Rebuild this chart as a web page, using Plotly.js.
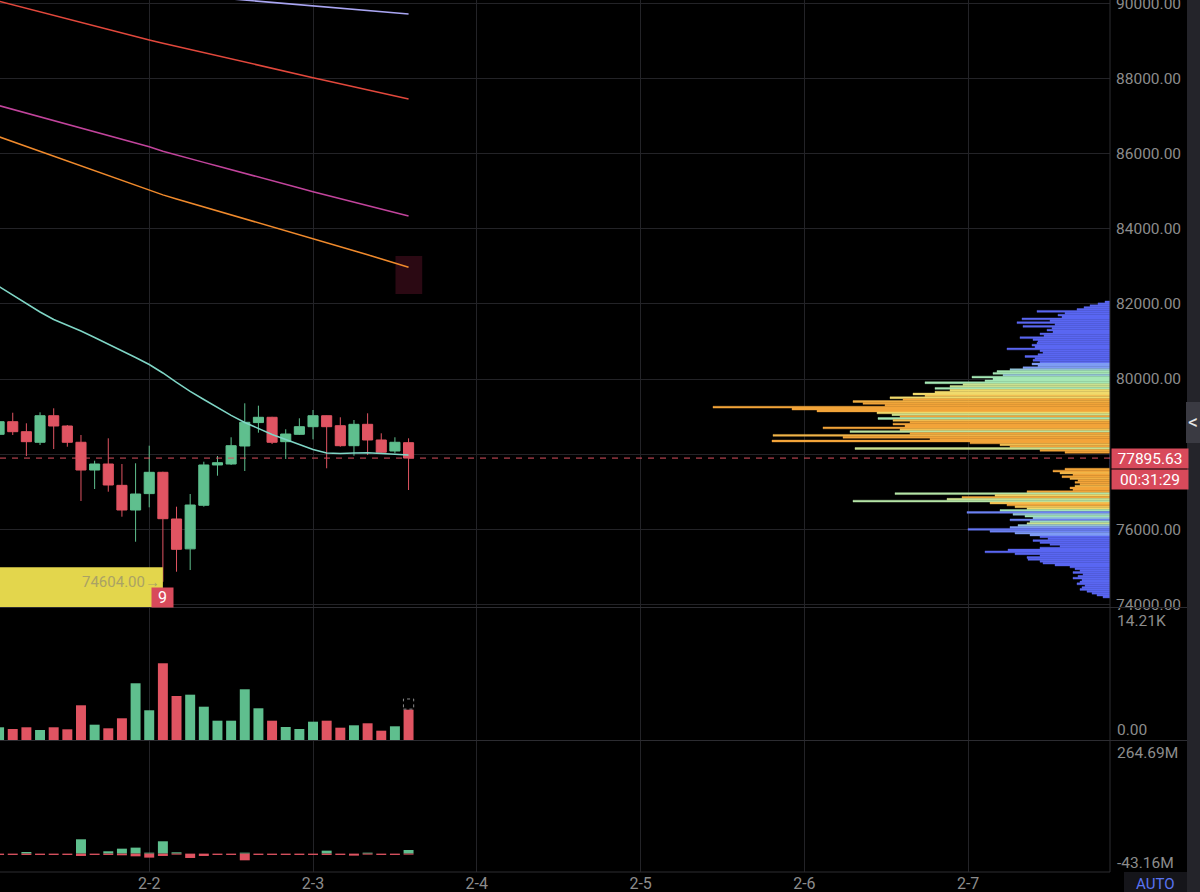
<!DOCTYPE html>
<html>
<head>
<meta charset="utf-8">
<script src="https://cdn.plot.ly/plotly-3.0.1.min.js"></script>
<style>
html,body{margin:0;padding:0;background:#000;}
#chart{width:1200px;height:892px;}
</style>
</head>
<body>
<div id="chart"></div>
<script>
// ---- candle data (2h candles) ----
const times = [
  "2026-02-01 02:00","2026-02-01 04:00","2026-02-01 06:00","2026-02-01 08:00","2026-02-01 10:00",
  "2026-02-01 12:00","2026-02-01 14:00","2026-02-01 16:00","2026-02-01 18:00","2026-02-01 20:00",
  "2026-02-01 22:00","2026-02-02 00:00","2026-02-02 02:00","2026-02-02 04:00","2026-02-02 06:00",
  "2026-02-02 08:00","2026-02-02 10:00","2026-02-02 12:00","2026-02-02 14:00","2026-02-02 16:00",
  "2026-02-02 18:00","2026-02-02 20:00","2026-02-02 22:00","2026-02-03 00:00","2026-02-03 02:00",
  "2026-02-03 04:00","2026-02-03 06:00","2026-02-03 08:00","2026-02-03 10:00","2026-02-03 12:00",
  "2026-02-03 14:00"
];
const open  = [78528,78864,78598,78316,79023,78749,78316,77578,77738,77170,76514,76950,77517,76275,75480,76640,77712,77738,78217,78840,78981,78332,78528,78731,79023,78757,78225,78794,78377,78084,78305];
const high  = [78962,79103,78821,79114,79220,78776,78510,77826,78422,77738,77757,78225,77533,76602,76940,77799,77951,78449,79353,79290,78995,78662,78954,79175,79030,78981,78909,79087,78555,78449,78422];
const low   = [78483,78510,77951,78244,78137,78198,76754,77073,77001,76336,75670,76586,74604,74872,74917,76602,77427,77712,77552,78571,78270,77871,78510,78395,77624,78198,77959,77978,78023,78023,77046];
const close = [78864,78598,78332,79023,78749,78316,77578,77738,77179,76514,76940,77517,76283,75468,76647,77712,77773,78225,78848,78981,78316,78536,78731,79023,78731,78225,78794,78377,78050,78316,77895.63];

// ---- moving averages ----
const maLavender = [90680,90645,90610,90575,90540,90505,90470,90435,90400,90368,90336,90304,90272,90240,90208,90176,90144,90112,90080,90048,90016,89984,89952,89920,89890,89860,89830,89800,89772,89743,89713];
const maRed      = [90050,89955,89860,89765,89670,89580,89490,89395,89300,89205,89113,89021,88935,88850,88765,88680,88600,88515,88430,88348,88265,88182,88100,88018,87937,87856,87775,87694,87613,87532,87451];
const maMagenta  = [87275,87177,87078,86980,86881,86783,86684,86585,86485,86382,86281,86181,86060,85955,85860,85765,85670,85575,85478,85380,85280,85180,85080,84984,84892,84800,84708,84616,84524,84432,84337];
const maOrange   = [86445,86316,86187,86058,85930,85801,85672,85544,85415,85286,85158,85029,84900,84790,84685,84580,84476,84372,84268,84164,84060,83956,83850,83744,83634,83524,83414,83304,83194,83084,82972];
const maTeal     = [82461,82235,82009,81783,81583,81437,81277,81104,80931,80745,80572,80386,80160,79907,79668,79455,79242,79030,78843,78684,78523,78390,78257,78124,78031,78018,78031,78039,78018,78004,77978];

// ---- volume pane ----
const volume = [1368,1185,1368,1077,1368,1152,3737,1648,1260,2337,6106,3199,8260,4739,4879,3586,2079,2079,5460,3414,2079,1400,1185,1971,2079,1325,1583,1799,1002,1475,3263];
const volumeProjected = 4416;

// ---- flow pane (millions) ----
const flowIn  = [0,0,3.9,0,0,0,33.7,0,5.5,11.7,14.1,2.3,29.0,3.1,0,0,0,0,2.3,0,0,0,0,0,7.0,0,0,2.3,0,0,8.6];
const flowOut = [-3.1,-3.1,-3.1,-3.1,-3.1,-3.1,-5.5,-3.1,-3.1,-3.9,-6.3,-9.4,-5.5,-2.3,-10.2,-5.5,-3.1,-3.1,-15.7,-3.1,-3.1,-3.1,-3.1,-3.1,-3.1,-3.1,-4.7,-2.3,-3.1,-3.1,-2.3];

// ---- volume profile (top bucket 82050, step 50, going down) ----
const profTop = 82050, profStep = 50;
const profLen = [
  5,12,20,26,33,73,45,52,48,88, 60,93,55,87,58,63,57,70,66,90,
  77,72,73,78,75,103,70,67,72,85, 75,77,70,78,72,87,100,113,117,107,
  138,117,125,185,147,160,175,160,175,197, 185,220,207,257,247,225,397,318,293,233,
  218,210,232,217,200,217,205,287,210,260, 200,337,267,180,338,140,110,100,255,70,
  45,
  0,0,0,0,0,0,0,0,
  45,57,50,37,48,40,32,35,30,35, 40,37,83,215,115,148,163,257,120,103,
  95,83,110,143,97,85,77,100,80,83, 92,100,142,120,95,80,70,62,77,70,
  60,50,70,102,125,95,70,83,82,70, 67,55,40,35,30,37,27,32,37,28,
  30,33,25,28,30,23,18,13,7
];
const profHeat = [
  0,0,0,0,0,0,0,0,0,0, 0,0,0,0,0,0,0,0,0,0,
  0,0,0,0,0,0,0,0,0,0, 0,0,0,1,1,1,1.5,2,2,1.5,
  2,2,2,2,2.5,2.5,2,3,3,3, 3.5,3,4,3.8,4,4,4,4,4,3,
  2.5,4,2,3.5,4,4,4,4,3.5,2.3, 4,3.7,4,4,4,4,3.5,4,2.5,4,
  4,
  0,0,0,0,0,0,0,0,
  4,4,3.7,4,4,3.8,4,4,4,3.7, 4,4,4,2.2,3,4,2.5,2.2,3.5,4,
  3.5,3,2,0.5,1.5,2,1.5,0.5,1.8,2.5, 1.5,1,0.3,0.5,1,1,0,0,0,0,
  0,0,0,0,0,0,0,0,0,0, 0,0,0,0,0,0,0,0,0,0,
  0,0,0,0,0,0,0,0,0
];

// ---- labels ----
const priceTicks = [74000,76000,78000,80000,82000,84000,86000,88000,90000];
const priceTickText = ["74000.00","76000.00","","80000.00","82000.00","84000.00","86000.00","88000.00","90000.00"];
const lastPrice = 77895.63;
const countdown = "00:31:29";
const lowPrice = 74604.00;
const lowLabel = "74604.00→";
const lowCount = "9";
const volTopLabel = "14.21K", volBottomLabel = "0.00";
const flowTopLabel = "264.69M", flowBottomLabel = "-43.16M";
const flowMax = 264.69, flowMin = -43.16, volMax = 14210;

// ---- build ----
const GREEN = '#5fbf8e', RED = '#e05462';
const profPrice = profLen.map((_, i) => profTop - i * profStep);
const barColors = close.map((c, i) => c >= open[i] ? GREEN : RED);
const TWOH = 2 * 3600 * 1000;
const PROF_SCALE = [[0, '#5a67f2'], [0.25, '#7f9cf4'], [0.5, '#a6e8b6'], [0.75, '#f0da6c'], [1, '#f2a53a']];

const traces = [
  { type: 'bar', orientation: 'h', x: profLen, y: profPrice, xaxis: 'x2', yaxis: 'y',
    width: 50, marker: { color: profHeat, cmin: 0, cmax: 4, colorscale: PROF_SCALE,
      line: { width: 0.4, color: profHeat, cmin: 0, cmax: 4, colorscale: PROF_SCALE } }, hoverinfo: 'skip' },
  { type: 'candlestick', x: times, open: open, high: high, low: low, close: close,
    xaxis: 'x', yaxis: 'y', whiskerwidth: 0,
    increasing: { line: { color: GREEN, width: 1 }, fillcolor: GREEN },
    decreasing: { line: { color: RED, width: 1 }, fillcolor: RED }, hoverinfo: 'skip' },
  { type: 'scatter', mode: 'lines', x: times, y: maLavender, line: { color: '#a9a5f2', width: 1.5 }, hoverinfo: 'skip' },
  { type: 'scatter', mode: 'lines', x: times, y: maRed, line: { color: '#e2483c', width: 1.5 }, hoverinfo: 'skip' },
  { type: 'scatter', mode: 'lines', x: times, y: maMagenta, line: { color: '#c2449c', width: 1.5 }, hoverinfo: 'skip' },
  { type: 'scatter', mode: 'lines', x: times, y: maOrange, line: { color: '#f08a2c', width: 1.5 }, hoverinfo: 'skip' },
  { type: 'scatter', mode: 'lines', x: times, y: maTeal, line: { color: '#7fd6c6', width: 1.5 }, hoverinfo: 'skip' },
  { type: 'bar', x: times, y: volume, yaxis: 'y2', width: TWOH * 0.73,
    marker: { color: barColors, line: { width: 0 } }, hoverinfo: 'skip' },
  { type: 'bar', x: times, y: flowIn, yaxis: 'y3', width: TWOH * 0.73,
    marker: { color: GREEN, line: { width: 0 } }, hoverinfo: 'skip' },
  { type: 'bar', x: times, y: flowOut, yaxis: 'y3', width: TWOH * 0.73,
    marker: { color: RED, line: { width: 0 } }, hoverinfo: 'skip' }
];

const GRID = '#232327', LINE = '#2c2c31', TXT = '#8c8c8c';
const FONT = 'Roboto, "Noto Sans", sans-serif';
const PX = 1110; // plot width in px
const pH = 872;  // plot height in px
const px2x = p => p / PX;
const py2y = p => (pH - p) / pH;

const layout = {
  width: 1200, height: 892,
  margin: { l: 0, r: 90, t: 0, b: 20, pad: 0 },
  paper_bgcolor: '#000', plot_bgcolor: '#000',
  showlegend: false, hovermode: false, barmode: 'overlay',
  boxmode: 'overlay', boxgap: 0.26, boxgroupgap: 0,
  font: { family: FONT, color: TXT, size: 15 },
  xaxis: { type: 'date', domain: [0, 1], anchor: 'y3',
    range: ['2026-02-01 02:08', '2026-02-07 20:47'],
    tick0: '2026-02-02', dtick: 86400000, tickformat: '%-m-%-d',
    showgrid: true, gridcolor: GRID, gridwidth: 1, zeroline: false, showline: false, ticks: '',
    tickfont: { size: 16, color: TXT }, rangeslider: { visible: false }, fixedrange: true },
  xaxis2: { overlaying: 'x', anchor: 'y', range: [PX, 0], visible: false, fixedrange: true },
  yaxis: { domain: [py2y(607), 1], anchor: 'x', side: 'right', range: [73933, 90085],
    tickvals: priceTicks, ticktext: priceTickText, showgrid: true, gridcolor: GRID, zeroline: false,
    ticks: '', showline: false, ticklabelstandoff: 5, ticklabeloverflow: 'allow',
    tickfont: { size: 15.5, color: TXT }, fixedrange: true },
  yaxis2: { domain: [py2y(740), py2y(608)], anchor: 'x', range: [0, volMax],
    showticklabels: false, showgrid: false, zeroline: false, fixedrange: true },
  yaxis3: { domain: [0, py2y(741)], anchor: 'x', range: [flowMin, flowMax],
    showticklabels: false, showgrid: false, zeroline: false, fixedrange: true },
  shapes: [
    { type: 'rect', xref: 'paper', yref: 'paper', x0: px2x(1187), x1: px2x(1200), y0: py2y(892), y1: 1,
      fillcolor: '#24242a', line: { width: 0 } },
    { type: 'rect', xref: 'paper', yref: 'paper', x0: px2x(1186), x1: px2x(1200), y0: py2y(443), y1: py2y(402),
      fillcolor: '#3a3a42', line: { width: 0 } },
    { type: 'rect', xref: 'paper', yref: 'paper', x0: px2x(1124), x1: px2x(1187), y0: py2y(892), y1: py2y(872),
      fillcolor: '#15151a', line: { width: 0 } },
    { type: 'line', xref: 'paper', yref: 'paper', x0: 1, x1: 1, y0: 0, y1: 1, line: { color: LINE, width: 1 } },
    { type: 'line', xref: 'paper', yref: 'paper', x0: 0, x1: px2x(1187), y0: py2y(607.5), y1: py2y(607.5), line: { color: LINE, width: 1 } },
    { type: 'line', xref: 'paper', yref: 'paper', x0: 0, x1: px2x(1187), y0: py2y(740.5), y1: py2y(740.5), line: { color: LINE, width: 1 } },
    { type: 'line', xref: 'paper', yref: 'paper', x0: 0, x1: 1, y0: 0, y1: 0, line: { color: LINE, width: 1 } },
    { type: 'rect', xref: 'x', yref: 'y', x0: '2026-02-03 12:05', x1: '2026-02-03 16:00', y0: 82262, y1: 83273,
      fillcolor: '#2b0913', line: { width: 0 }, layer: 'below' },
    { type: 'rect', xref: 'x', yref: 'y', x0: '2026-01-31 00:00', x1: times[12], y0: 73933, y1: 74989,
      fillcolor: '#e3d64c', line: { width: 0 }, layer: 'above' },
    { type: 'line', xref: 'paper', yref: 'y', x0: 0, x1: 1, y0: lastPrice, y1: lastPrice,
      line: { color: '#d9505f', width: 1, dash: '6px,6px' }, layer: 'above' },
    { type: 'rect', xref: 'x', yref: 'y2', x0: '2026-02-03 13:15', x1: '2026-02-03 14:45',
      y0: volume[volume.length - 1] + 60, y1: volumeProjected,
      line: { color: '#8a8a8a', width: 1, dash: 'dot' }, fillcolor: 'rgba(0,0,0,0)' }
  ],
  annotations: [
    { xref: 'paper', yref: 'y', x: 1, y: lastPrice, xanchor: 'left', yanchor: 'middle', xshift: 1,
      text: lastPrice.toFixed(2), showarrow: false, bgcolor: '#d84a5b', width: 74, height: 17, borderpad: 1,
      font: { color: '#ffffff', size: 15.5, family: FONT } },
    { xref: 'paper', yref: 'y', x: 1, y: lastPrice, xanchor: 'left', yanchor: 'middle', xshift: 1, yshift: -21,
      text: countdown, showarrow: false, bgcolor: '#d84a5b', width: 74, height: 17, borderpad: 1,
      font: { color: '#ffffff', size: 15.5, family: FONT } },
    { xref: 'x', yref: 'y', x: times[12], y: lowPrice, xanchor: 'right', yanchor: 'middle', xshift: -1, yshift: 0,
      text: lowLabel, showarrow: false, font: { color: '#aaa265', size: 15, family: FONT } },
    { xref: 'x', yref: 'y', x: times[12], y: lowPrice, xanchor: 'center', yanchor: 'middle', yshift: -16,
      text: lowCount, showarrow: false, bgcolor: '#d84a5b', width: 19, height: 17, borderpad: 1,
      font: { color: '#ffffff', size: 16, family: FONT } },
    { xref: 'paper', yref: 'paper', x: 1, y: py2y(621), xanchor: 'left', yanchor: 'middle', xshift: 5,
      text: volTopLabel, showarrow: false, font: { color: TXT, size: 15.5 } },
    { xref: 'paper', yref: 'paper', x: 1, y: py2y(730), xanchor: 'left', yanchor: 'middle', xshift: 5,
      text: volBottomLabel, showarrow: false, font: { color: TXT, size: 15.5 } },
    { xref: 'paper', yref: 'paper', x: 1, y: py2y(753), xanchor: 'left', yanchor: 'middle', xshift: 5,
      text: flowTopLabel, showarrow: false, font: { color: TXT, size: 15.5 } },
    { xref: 'paper', yref: 'paper', x: 1, y: py2y(862.5), xanchor: 'left', yanchor: 'middle', xshift: 5,
      text: flowBottomLabel, showarrow: false, font: { color: TXT, size: 15.5 } },
    { xref: 'paper', yref: 'paper', x: px2x(1155), y: py2y(884), xanchor: 'center', yanchor: 'middle',
      text: 'AUTO', showarrow: false, font: { color: '#5a74f2', size: 15 } },
    { xref: 'paper', yref: 'paper', x: px2x(1193), y: py2y(422), xanchor: 'center', yanchor: 'middle',
      text: '<', showarrow: false, font: { color: '#e6e6e6', size: 20 } }
  ]
};

Plotly.newPlot('chart', traces, layout, { displayModeBar: false, staticPlot: true });
</script>
</body>
</html>
